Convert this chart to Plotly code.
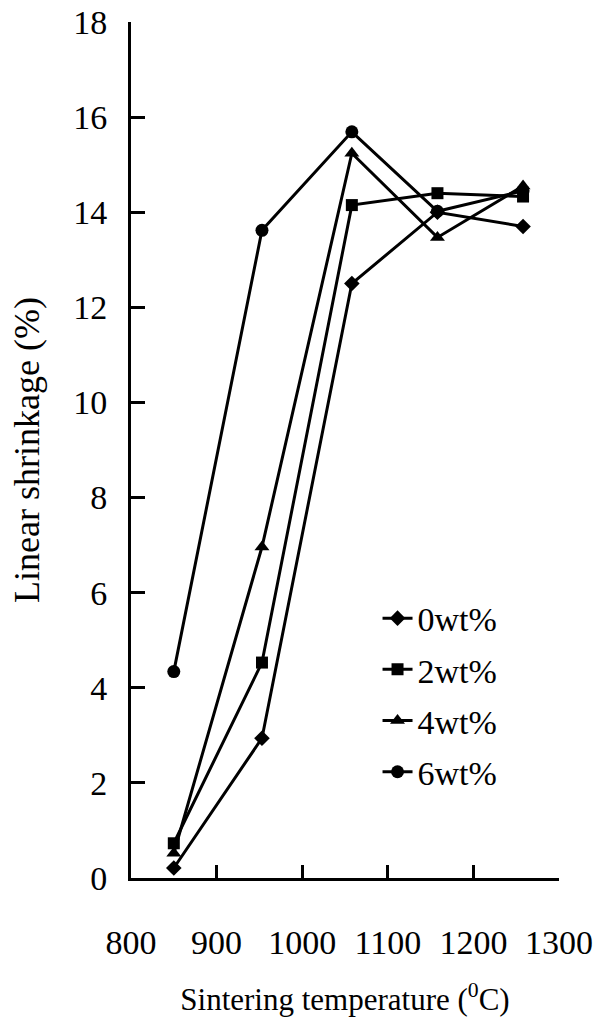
import plotly.graph_objects as go

temps = [850, 953, 1058, 1158, 1258]
s0 = [0.21, 2.94, 12.5, 14.0, 13.7]
s2 = [0.73, 4.53, 14.15, 14.4, 14.33]
s4 = [0.52, 6.96, 15.24, 13.47, 14.55]
s6 = [4.34, 13.62, 15.69, 14.02, 14.45]
names = ["0wt%", "2wt%", "4wt%", "6wt%"]
symbols = ["diamond", "square", "triangle-up", "circle"]
sizes = [12, 12, 13, 13]
series = [s0, s2, s4, s6]

FONT = "Liberation Serif"
fig = go.Figure()
for i, (nm, ys) in enumerate(zip(names, series)):
    fig.add_trace(go.Scatter(
        x=temps, y=ys, name=nm, mode="lines+markers", legendgroup=nm,
        line=dict(color="black", width=3),
        marker=dict(symbol=symbols[i], size=sizes[i], color="black"),
    ))

fig.update_layout(
    width=593, height=1017,
    margin=dict(l=131, r=34, t=22, b=139),
    paper_bgcolor="white", plot_bgcolor="white",
    font=dict(family=FONT, color="black", size=34),
    showlegend=True,
    legend=dict(x=0.576, y=0.337, xanchor="left", yanchor="top",
                bgcolor="rgba(0,0,0,0)", font=dict(size=34),
                tracegroupgap=4, itemwidth=30),
    xaxis=dict(range=[800, 1300], tickvals=[800, 900, 1000, 1100, 1200, 1300],
               showline=True, linecolor="black", linewidth=3, showgrid=False,
               zeroline=False, ticks="inside", ticklen=13, tickwidth=3,
               tickcolor="black", ticklabelstandoff=32, automargin=False,
               tickfont=dict(size=34),
               title=dict(text="Sintering temperature (<sup>0</sup>C)",
                          font=dict(size=31), standoff=36)),
    yaxis=dict(range=[0, 18], tickvals=list(range(0, 19, 2)),
               showline=True, linecolor="black", linewidth=3, showgrid=False,
               zeroline=False, ticks="inside", ticklen=14, tickwidth=3,
               tickcolor="black", ticklabelstandoff=14, automargin=False,
               tickfont=dict(size=34),
               title=dict(text="Linear shrinkage (%)", font=dict(size=36),
                          standoff=23)),
)

fig.write_html("out.html")
